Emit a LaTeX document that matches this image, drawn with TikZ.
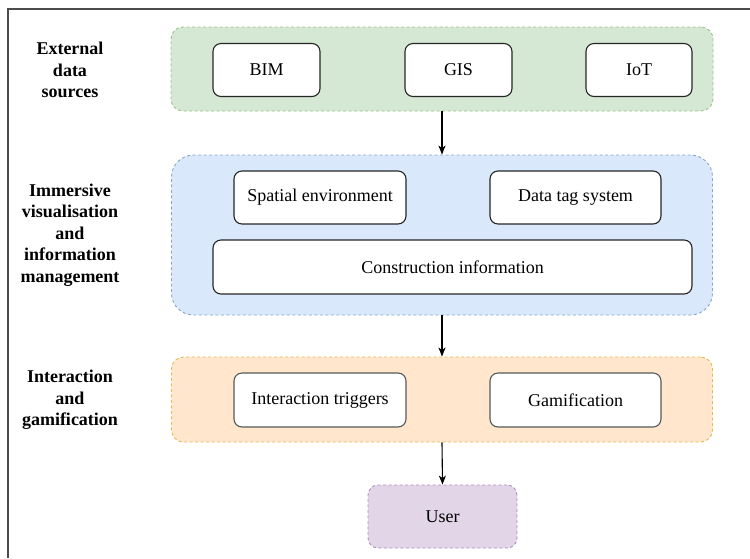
\documentclass[tikz,border=0pt]{standalone}
\usepackage{fontspec}
\setmainfont{Liberation Serif}
\definecolor{leafgreen}{RGB}{213, 232, 212}
\definecolor{leafgreenline}{RGB}{130, 179, 102}
\definecolor{skyblue}{RGB}{218, 232, 252}
\definecolor{skyblueline}{RGB}{108, 142, 191}
\definecolor{peach}{RGB}{255, 230, 204}
\definecolor{peachline}{RGB}{215, 170, 40}
\definecolor{lilac}{RGB}{225, 213, 231}
\definecolor{lilacline}{RGB}{150, 115, 166}
\usetikzlibrary{arrows.meta, positioning}
\tikzset{
  layerbox/.style={rectangle, draw=#1line!80, fill=#1, dash pattern=on 3pt off 2.5pt, line width=0.9pt},
  itemnode/.style={rectangle, draw=black!85, fill=white, rounded corners=8pt, minimum height=53pt, line width=1.1pt, font=\fontsize{18}{21.6}\selectfont},
  layerlabel/.style={align=center, font=\fontsize{18}{21.6}\selectfont\bfseries},
  flowarrow/.style={-{Stealth[length=9pt, width=7pt, inset=2.5pt]}, line width=1.1pt, black},
}

\begin{document}
\begin{tikzpicture}[x=1pt, y=-1pt]
\useasboundingbox (0,0) rectangle (750,558);
% frame
\draw[black!70, line width=1.5pt] (8,558) -- (8,9) -- (750,9);

% layers
\node[layerbox=leafgreen, rounded corners=12pt, minimum width=542pt, minimum height=84pt] (sources) at (442,69) {};
\node[layerbox=skyblue, rounded corners=22pt, minimum width=541pt, minimum height=160pt] (visual) at (442,235) {};
\node[layerbox=peach, rounded corners=12pt, minimum width=541pt, minimum height=85pt] (interact) at (442,399.5) {};
\node[layerbox=lilac, rounded corners=10pt, minimum width=149pt, minimum height=63pt, font=\fontsize{18}{21.6}\selectfont] (user) at (442.5,516.5) {User};

% layer titles
\node[layerlabel] (sourcestitle) at (70,70) {External\\data\\sources};
\node[layerlabel] (visualtitle) at (70,235) {Immersive\\visualisation\\and\\information\\management};
\node[layerlabel] (interacttitle) at (70,400) {Interaction\\and\\gamification};

% items
\node[itemnode, minimum width=107pt] (bim) at (266.5,70) {BIM};
\node[itemnode, minimum width=107pt] (gis) at (458.5,70) {GIS};
\node[itemnode, minimum width=106pt] (iot) at (639,70) {IoT};
\node[itemnode, minimum width=172pt] (spatial) at (320,197.5) {Spatial environment};
\node[itemnode, minimum width=171pt] (datatag) at (575.5,197.5) {Data tag system};
\node[itemnode, minimum width=479pt, minimum height=54pt] (construction) at (452.5,267) {Construction information};
\node[itemnode, minimum width=172pt, minimum height=54pt, draw=black!65] (triggers) at (320,400) {Interaction triggers};
\node[itemnode, minimum width=171pt, minimum height=54pt, draw=black!65] (gamification) at (575.5,400) {Gamification};

% flow
\draw[flowarrow] (sources.south) -- (visual.north);
\draw[flowarrow] (visual.south) -- (interact.north);
\draw[flowarrow] (interact.south) -- (user.north);
\end{tikzpicture}
\end{document}
